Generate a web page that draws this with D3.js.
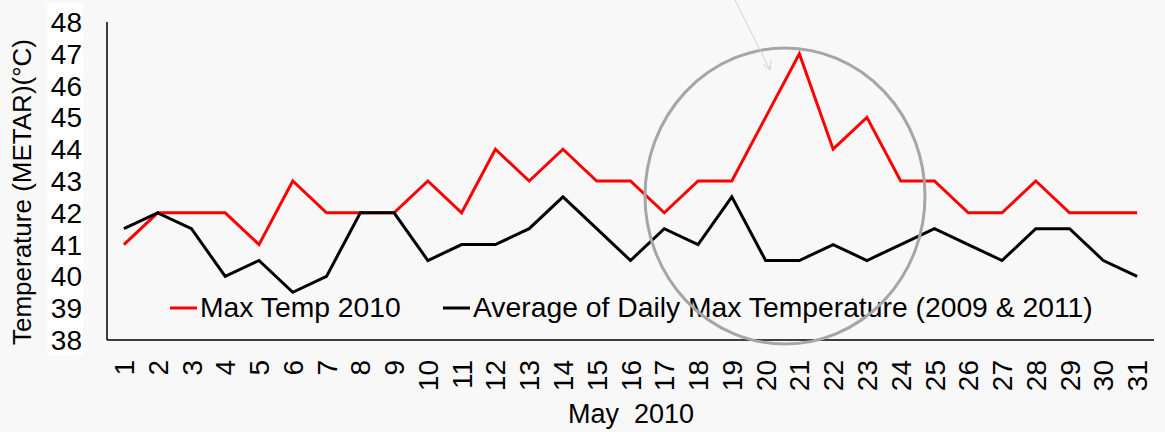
<!DOCTYPE html>
<html>
<head>
<meta charset="utf-8">
<script src="https://cdn.jsdelivr.net/npm/d3@7"></script>
<style>
  html, body { margin: 0; padding: 0; background: #f8f8f8; }
  svg { display: block; }
  text { font-family: "Liberation Sans", Arial, sans-serif; fill: #000; }
</style>
</head>
<body>
<svg id="chart" width="1165" height="432"></svg>
<script>
// data
const days = d3.range(1, 32).map(String)
const maxTemp2010 = [41, 42, 42, 42, 41, 43, 42, 42, 42, 43, 42, 44, 43, 44, 43, 43,
  42, 43, 43, 45, 47, 44, 45, 43, 43, 42, 42, 43, 42, 42, 42]
const avgMax0911 = [41.5, 42, 41.5, 40, 40.5, 39.5, 40, 42, 42, 40.5, 41, 41, 41.5, 42.5, 41.5, 40.5,
  41.5, 41, 42.5, 40.5, 40.5, 41, 40.5, 41, 41.5, 41, 40.5, 41.5, 41.5, 40.5, 40]
const yTicks = d3.range(38, 49)
const seriesNames = ['Max Temp 2010', 'Average of Daily Max Temperature (2009 & 2011)']
const seriesColors = ['#ff0000', '#000000']

const svg = d3.select('#chart')
const plotL = 107, plotR = 1154, plotT = 22, plotB = 340

const x = d3.scaleBand().domain(days).range([plotL, plotR])
const y = d3.scaleLinear().domain([38, 48]).range([plotB, plotT])

// white block behind the value labels
svg.append('rect').attr('x', 47).attr('y', 3).attr('width', 36).attr('height', 352).attr('fill', '#fff')

// y tick labels
svg.append('g').selectAll('text').data(yTicks).enter().append('text')
  .attr('x', 82).attr('y', d => y(d)).attr('dy', '0.36em')
  .attr('text-anchor', 'end').style('font-size', '28px')
  .text(d => d)

// axes lines
svg.append('line').attr('x1', plotL).attr('x2', plotL).attr('y1', plotT).attr('y2', plotB)
  .attr('stroke', '#000').attr('stroke-width', 1.5)
svg.append('line').attr('x1', plotL).attr('x2', plotR).attr('y1', plotB).attr('y2', plotB)
  .attr('stroke', '#000').attr('stroke-width', 1.5)

// x tick labels, rotated
svg.append('g').selectAll('text').data(days).enter().append('text')
  .attr('transform', d => `translate(${x(d) + x.bandwidth() / 2},360) rotate(-90)`)
  .attr('text-anchor', 'end').attr('dy', '0.36em').style('font-size', '28px')
  .text(d => d)

// axis titles
svg.append('text').attr('transform', 'translate(31,192) rotate(-90)')
  .attr('text-anchor', 'middle').style('font-size', '26px')
  .text('Temperature (METAR)(°C)')
svg.append('text').attr('x', 631).attr('y', 423).attr('text-anchor', 'middle')
  .style('font-size', '27px').style('white-space', 'pre')
  .text('May  2010')

// lines
const line = d3.line().x((d, i) => x(days[i]) + x.bandwidth() / 2).y(d => y(d))
;[maxTemp2010, avgMax0911].forEach((s, k) => {
  svg.append('path').datum(s).attr('d', line)
    .attr('fill', 'none').attr('stroke', seriesColors[k]).attr('stroke-width', 3)
    .attr('stroke-linejoin', 'miter')
})

// legend
const legendX = [170, 443]
seriesNames.forEach((name, k) => {
  svg.append('line').attr('x1', legendX[k]).attr('x2', legendX[k] + 27)
    .attr('y1', 308).attr('y2', 308).attr('stroke', seriesColors[k]).attr('stroke-width', 3)
  svg.append('text').attr('x', legendX[k] + 30).attr('y', 317)
    .style('font-size', '28.3px').text(name)
})

// highlight ellipse around the peak
svg.append('ellipse').attr('cx', 785).attr('cy', 196).attr('rx', 140).attr('ry', 148)
  .attr('fill', 'none').attr('stroke', '#a6a6a6').attr('stroke-width', 3)

// thin pointer arrow
svg.append('line').attr('x1', 734).attr('y1', -2).attr('x2', 770).attr('y2', 70)
  .attr('stroke', '#d0d0d0').attr('stroke-width', 1)
svg.append('path').attr('d', 'M763,64 L770,70 L771,60')
  .attr('fill', 'none').attr('stroke', '#d0d0d0').attr('stroke-width', 1)
</script>
</body>
</html>
